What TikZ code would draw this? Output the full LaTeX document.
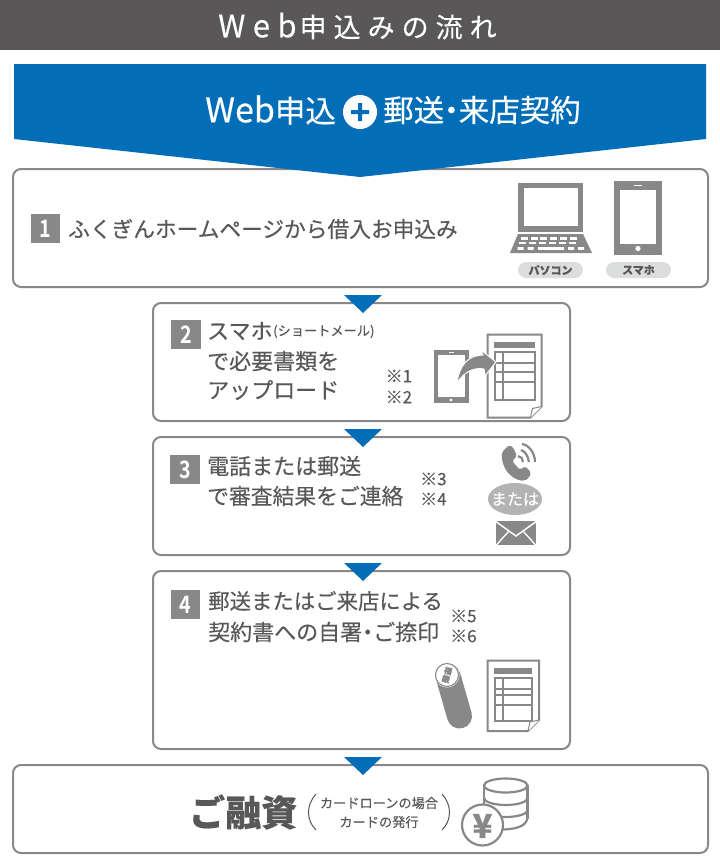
\documentclass[tikz,border=0pt]{standalone}
\usepackage{fontspec}
\setmainfont{Noto Sans CJK JP}[FakeBold=0.25]
\newfontfamily\numf{Noto Sans CJK JP Bold}[FakeStretch=0.82]
\definecolor{txt}{HTML}{595757}
\definecolor{ic}{HTML}{888888}
\definecolor{blu}{HTML}{036EB8}
\definecolor{hd}{HTML}{595757}
\definecolor{pill}{HTML}{DCDDDD}
\definecolor{orc}{HTML}{B3B3B3}
\newcommand{\fs}[1]{\fontsize{#1}{#1}\selectfont}
\tikzset{
  x=1pt,y=-1pt,
  stepcard/.style={draw=ic,line width=2pt,rounded corners=8pt,fill=white},
  pointer/.style={fill=blu,draw=none},
  numbox/.style={fill=ic,text=white,minimum size=29.5pt,inner sep=0pt,font=\numf\fs{24}},
  body/.style={anchor=west,inner sep=0pt,text=txt,font=\fs{22}},
  note/.style={anchor=west,inner sep=0pt,text=txt,font=\fs{17}},
  tag/.style={fill=pill,draw=none,rounded corners=8pt,text=txt,font=\fs{11}\bfseries,inner sep=0pt},
}
% left top right bottom tablebottom row1 row2 row3
\newcommand{\sheet}[8]{%
  \draw[ic,line width=2pt,fill=white] (#1,#2) -- (#3,#2) -- (#3,#4-11) -- (#3-11,#4) -- (#1,#4) -- cycle;
  \draw[ic,line width=1pt,fill=white] (#3,#4-11) -- (#3-9,#4-9) -- (#3-11,#4);
  \fill[ic] (#1+6,#2+7) rectangle (#3-7,#2+13);
  \draw[ic,line width=2pt] (#1+7,#2+17.5) rectangle (#3-7,#5);
  \draw[ic,line width=2pt] (#1+15.5,#2+17.5) -- (#1+15.5,#5);
  \draw[ic,line width=1.6pt] (#1+7,#6) -- (#3-7,#6) (#1+7,#7) -- (#3-7,#7) (#1+7,#8) -- (#3-7,#8);
}
\begin{document}
\begin{tikzpicture}
\useasboundingbox (0,0) rectangle (720,860);
\fill[white] (0,0) rectangle (720,860);
% header
\fill[hd] (0,0) rectangle (720,50);
\node[anchor=west,text=white,inner sep=0pt,font=\fs{27}] (title) at (218,26) {{\fs{31}\addfontfeature{LetterSpace=24}Web}\hspace{3pt}{\addfontfeature{LetterSpace=26}申込みの流れ}};
% cards
\draw[stepcard] (13,169) rectangle (708,287);
\draw[stepcard] (153,303) rectangle (570,421);
\draw[stepcard] (153,437) rectangle (570,555);
\draw[stepcard] (153,571) rectangle (570,749);
\draw[stepcard] (13,765) rectangle (708,853);
% banner
\fill[blu] (14,64) -- (706,64) -- (706,139) -- (360,177) -- (14,139) -- cycle;
\node[anchor=west,inner sep=0pt,text=white,font=\fs{30.5}] (web) at (205,110) {{\fs{34}Web}申込};
\fill[white] (360,112) circle (17);
\fill[blu] (351,110) rectangle (369,114) (358,103) rectangle (362,121);
\node[anchor=west,inner sep=0pt,text=white,font=\fs{30.5}] (post) at (383,110) {郵送\hspace{-8pt}・\hspace{-8pt}来店契約};
% pointers
\foreach \yy in {295,429,563,757} {
  \fill[pointer] (344,\yy) -- (382,\yy) -- (363,\yy+18) -- cycle;
}
% step 1
\node[numbox] (n1) at (45.5,228.5) {1};
\node[body,font=\fs{21.7}] (t1) at (68,229) {ふくぎんホームページから借入お申込み};
% laptop
\fill[ic] (518,183) rectangle (583,232);
\fill[white] (524,188) rectangle (578,226);
\fill[ic] (518,234) -- (583,234) -- (592,253) -- (510,253) -- cycle;
\foreach \yt/\xs/\dx in {237/521/9.7,241.5/519/10} {
  \foreach \c in {0,1,2,3,4,5} {
    \fill[white] ({\xs+\c*\dx},\yt) rectangle ++(7,2.8);
  }
}
\fill[white] (517.5,247) rectangle ++(6,2.8) (527.5,247) rectangle ++(6,2.8) (538,247) rectangle (564,249.8) (568,247) rectangle ++(6,2.8) (578,247) rectangle ++(6,2.8);
\node[tag,minimum width=65pt,minimum height=16pt] (pc) at (550.5,270) {パソコン};
% phone
\fill[ic] (614,181) rectangle (662,255);
\fill[white] (620,190) rectangle (656,244);
\fill[white] (634,184.7) rectangle (642,186.3);
\fill[white] (638,248.5) circle (2.6);
\node[tag,minimum width=65pt,minimum height=16pt] (sp) at (638.5,270) {スマホ};
% step 2
\node[numbox] (n2) at (186,334.5) {2};
\node[body] (t2a) at (207,331) {スマホ};
\node[body,font=\fs{13.2}] (t2b) at (273,331.5) {(ショートメール)};
\node[body] (t2c) at (207,361) {で必要書類を};
\node[body] (t2d) at (207,390) {アップロード};
\node[note] (r1) at (385.5,376) {※1};
\node[note] (r2) at (385.5,397) {※2};
\fill[ic] (434,350) rectangle (469,403);
\fill[white] (437.5,355) rectangle (465,397);
\fill[white] (449,351.6) rectangle (454,352.8);
\fill[white] (451,400) circle (1.7);
\sheet{487.5}{334.5}{541.5}{417.5}{400}{363}{372}{382}
\draw[white,line width=1pt,fill=ic] (457,383) .. controls (459,365) and (469,355) .. (483,355) -- (481,350) -- (496,362) -- (485,376) -- (484,369) .. controls (474,367) and (464,372) .. (457,383) -- cycle;
% step 3
\node[numbox] (n3) at (185,469.5) {3};
\node[body] (t3a) at (207,466) {電話または郵送};
\node[body,font=\fs{21.8}] (t3b) at (207,496) {で審査結果をご連絡};
\node[note] (r3) at (420,479) {※3};
\node[note] (r4) at (420,499) {※4};
% handset
\fill[ic,rounded corners=2pt] (509,445) -- (513,447) -- (517,456) -- (512,461) -- (520,470) -- (525,466) -- (531,472) -- (529,478) -- (524,481) .. controls (510,479) and (501,467) .. (502,452) -- cycle;
\draw[ic,line width=2.2pt] (518,456) .. controls (521,456) and (523,459) .. (523,462);
\draw[ic,line width=2.2pt] (521,450) .. controls (525,451) and (528,456) .. (529,462);
\draw[ic,line width=2.2pt] (522,444) .. controls (529,445) and (535,453) .. (535,462);
\fill[orc] (515,499) ellipse [x radius=27,y radius=16];
\node[inner sep=0pt,text=white,font=\fs{16}] (or) at (515,499) {または};
\fill[ic] (496,521) rectangle (536,545);
\draw[white,line width=1.5pt] (495,521) -- (516,536) -- (537,521);
\draw[white,line width=1.3pt] (495,546.5) -- (509,531) (537,546.5) -- (523,531);
% step 4
\node[numbox] (n4) at (185.5,604.5) {4};
\node[body,font=\fs{21.4}] (t4a) at (208,601) {郵送またはご来店による};
\node[body] (t4b) at (208,632) {契約書への自署\hspace{-5.5pt}・\hspace{-5.5pt}ご捺印};
\node[note] (r5) at (450,616) {※5};
\node[note] (r6) at (450,636) {※6};
% stamp
\draw[ic,line cap=round,line width=25pt] (448,676) -- (459.5,716);
\fill[white] (447,675) circle (12.5);
\draw[ic,line width=1.1pt] (447,675) circle (11.5);
\node[inner sep=0pt,text=ic,font=\fs{8}\bfseries,rotate=-16] (seal) at (447,675) {\parbox{9pt}{\centering\fs{8}\baselineskip=8.5pt 福\\銀}};
\sheet{487.5}{660.5}{539}{731}{721}{689}{695}{705}
% loan
\node[anchor=west,inner sep=0pt,text=txt,font=\fs{36}\bfseries] (loan) at (189,812) {ご融資};
\draw[txt,line width=1pt] (316,794) .. controls (306,805) and (306,820) .. (316,830);
\draw[txt,line width=1pt] (442,794) .. controls (452,805) and (452,820) .. (442,830);
\node[inner sep=0pt,text=txt,font=\fs{13.2}] (l1) at (379,803) {カードローンの場合};
\node[inner sep=0pt,text=txt,font=\fs{13.2}] (l2) at (379,822) {カードの発行};
% coins
\draw[ic,line width=2.2pt] (484,785.5) -- (484,808) (527.5,785.5) -- (527.5,819);
\draw[ic,line width=2.2pt] (505.7,785.5) ellipse [x radius=21.8,y radius=7];
\draw[ic,line width=2.2pt] (484,798) arc (180:0:21.8 and 7);
\draw[ic,line width=2.2pt] (484,810) arc (180:0:21.8 and 7);
\draw[ic,line width=2.2pt] (503,829.5) .. controls (517,829) and (527,826) .. (527.5,817);
\draw[ic,line width=2.2pt,fill=white] (482.5,825) circle (20.5);
\node[inner sep=0pt,text=ic,font=\fs{33}\bfseries] (yen) at (482.5,826) {¥};
\end{tikzpicture}
\end{document}
